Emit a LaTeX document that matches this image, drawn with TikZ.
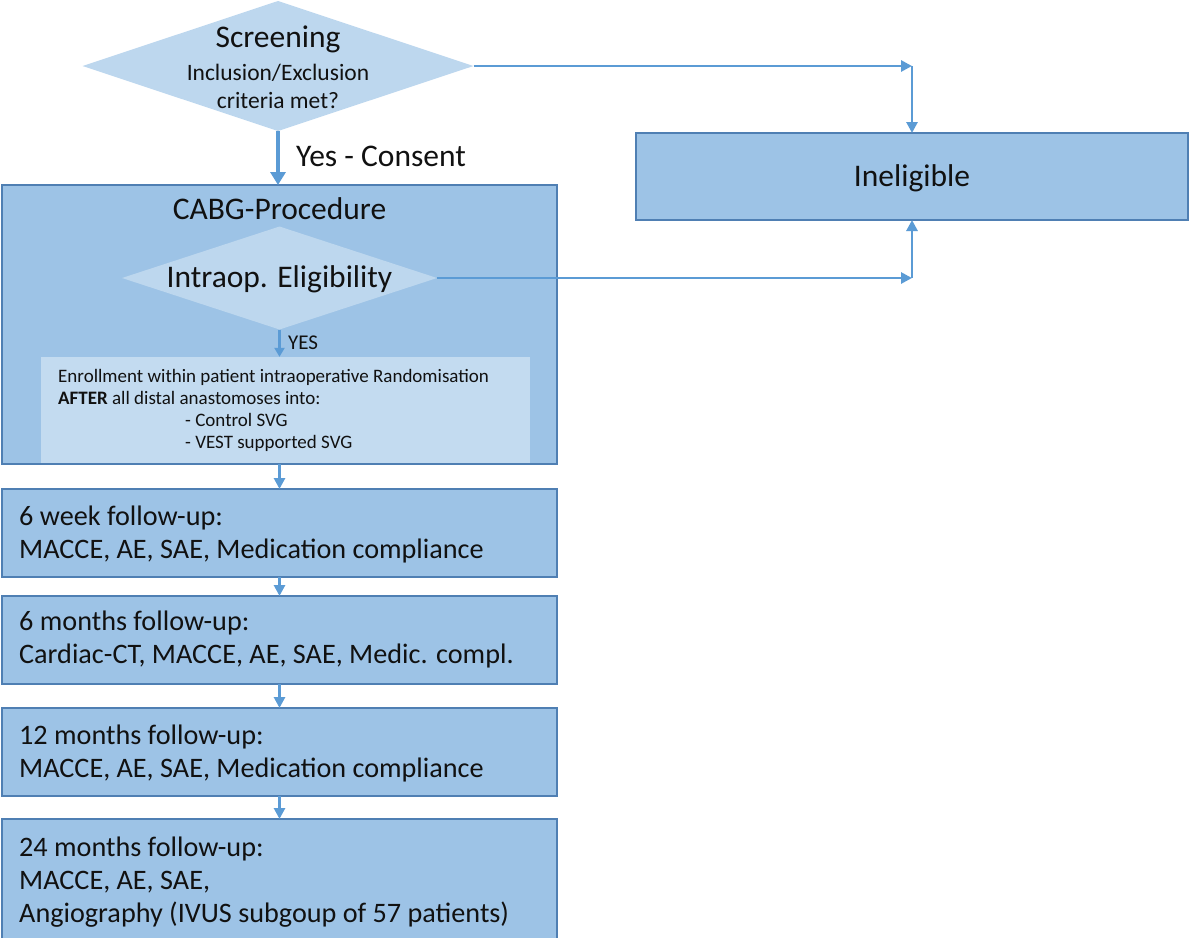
\documentclass[tikz,border=0pt]{standalone}
\usepackage{fontspec}
\setmainfont{Carlito}
\usetikzlibrary{shapes.geometric,arrows.meta}
\definecolor{boxfill}{HTML}{9DC3E6}
\definecolor{boxline}{HTML}{4F7FB3}
\definecolor{diafill}{HTML}{BDD7EE}
\definecolor{enrfill}{HTML}{C3DBF0}
\definecolor{arr}{HTML}{5B9BD5}
\definecolor{ink}{HTML}{111111}
\begin{document}
\begin{tikzpicture}[x=1pt,y=-1pt,
  box/.style={draw=boxline, line width=1.6pt, fill=boxfill, inner sep=0pt, outer sep=0pt},
  dia/.style={diamond, fill=diafill, inner sep=0pt, outer sep=0pt},
  txt/.style={text=ink, inner sep=0pt, align=left},
  big/.style={font=\fontsize{31.5}{37}\selectfont},
  mid/.style={font=\fontsize{28.2}{33}\selectfont},
  conn/.style={draw=arr, line width=2.8pt, -{Triangle[length=11pt,width=11pt]}},
  bigconn/.style={draw=arr, line width=4.5pt, -{Triangle[length=13pt,width=15pt]}}]
\useasboundingbox (0,0) rectangle (1190,937);

% screening diamond
\node[dia, minimum width=391pt, minimum height=130pt] (scr) at (278,66) {};
\node[txt, big] (scrT) at (278,39) {Screening};
\node[txt, align=center, font=\fontsize{23.5}{28}\selectfont] (scrC) at (278,86) {Inclusion/Exclusion\\criteria met?};

% ineligible
\node[box, minimum width=552pt, minimum height=87pt] (inel) at (912,176.5) {};
\node[txt, big] (inelT) at (912,178) {Ineligible};

% CABG box
\node[box, minimum width=555pt, minimum height=279pt] (cabg) at (279.5,324.5) {};
\node[txt, big] (cabgT) at (279.5,209) {CABG-Procedure};
\node[dia, minimum width=315pt, minimum height=103pt] (intra) at (279.5,278) {};
\node[txt, big] (intraT) at (279.5,279) {Intraop. Eligibility};
\node[fill=enrfill, inner sep=0pt, minimum width=489pt, minimum height=106pt] (enr) at (285.5,410) {};
\node[txt, anchor=west, font=\fontsize{19}{22}\selectfont] (enrT) at (58,410)
  {Enrollment within patient intraoperative Randomisation\\
   \textbf{AFTER} all distal anastomoses into:\\
   \hspace*{127pt}- Control SVG\\
   \hspace*{127pt}- VEST supported SVG};

% follow-up boxes
\node[box, minimum width=555pt, minimum height=88pt] (w6) at (279.5,533) {};
\node[txt, mid, anchor=west] (w6T) at (19,534) {6 week follow-up:\\MACCE, AE, SAE, Medication compliance};
\node[box, minimum width=555pt, minimum height=88pt] (m6) at (279.5,640) {};
\node[txt, mid, anchor=west] (m6T) at (19,639) {6 months follow-up:\\Cardiac-CT, MACCE, AE, SAE, Medic. compl.};
\node[box, minimum width=555pt, minimum height=88pt] (m12) at (279.5,752) {};
\node[txt, mid, anchor=west] (m12T) at (19,753) {12 months follow-up:\\MACCE, AE, SAE, Medication compliance};
\node[box, minimum width=555pt, minimum height=128pt] (m24) at (279.5,883) {};
\node[txt, mid, anchor=west] (m24T) at (19,882) {24 months follow-up:\\MACCE, AE, SAE,\\Angiography (IVUS subgoup of 57 patients)};

% connectors
\draw[bigconn] (scr.south) -- (scr.south |- cabg.north);
\node[txt, big, anchor=west] (yesc) at (296,156) {Yes - Consent};
\draw[conn, line width=2.2pt, -{Triangle[length=9pt,width=10pt]}] (intra.south) -- (intra.south |- enr.north);
\node[txt, anchor=west, font=\fontsize{21}{25}\selectfont] (yesT) at (288,343) {YES};
\draw[conn] (cabg.south) -- (w6.north);
\draw[conn] (w6.south) -- (m6.north);
\draw[conn] (m6.south) -- (m12.north);
\draw[conn] (m12.south) -- (m24.north);

\coordinate (k1) at (scr.east -| inel.north);
\coordinate (k2) at (intra.east -| inel.south);
\draw[conn] (scr.east) -- (k1);
\draw[conn] (k1) -- (inel.north);
\draw[conn] (intra.east) -- (k2);
\draw[conn] (k2) -- (inel.south);
\end{tikzpicture}
\end{document}
